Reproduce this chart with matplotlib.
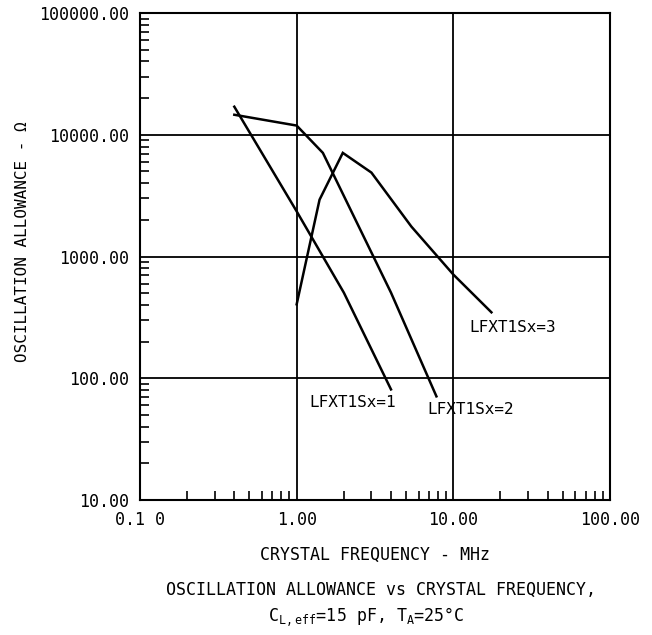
import matplotlib
matplotlib.use("Agg")
import matplotlib.pyplot as plt
from matplotlib.ticker import LogLocator, FixedLocator, NullFormatter

# Data (MHz, ohms)
freq_sx1 = [0.4, 1.0, 2.0, 4.0]
allow_sx1 = [17000, 2350, 505, 81]

freq_sx2 = [0.4, 1.0, 1.47, 4.0, 7.8]
allow_sx2 = [14600, 11900, 7100, 505, 71]

freq_sx3 = [1.0, 1.4, 1.97, 3.0, 5.4, 10.0, 17.5]
allow_sx3 = [405, 2930, 7100, 4890, 1760, 711, 348]

series_labels = ["LFXT1Sx=1", "LFXT1Sx=2", "LFXT1Sx=3"]
label_pos = [(1.2, 63), (6.8, 55), (12.6, 262)]

x_ticks = [0.1, 1, 10, 100]
x_ticklabels = ["0.1 0", "1.00", "10.00", "100.00"]
y_ticks = [10, 100, 1000, 10000, 100000]
y_ticklabels = ["10.00", "100.00", "1000.00", "10000.00", "100000.00"]

FONT = "DejaVu Sans Mono"
plt.rcParams["font.family"] = [FONT, "DejaVu Sans"]
plt.rcParams["mathtext.fontset"] = "dejavusans"

fig = plt.figure(figsize=(6.52, 6.35), dpi=100)
ax = fig.add_axes([0.2147, 0.2126, 0.7209, 0.7669])

ax.set_xscale("log")
ax.set_yscale("log")
ax.set_xlim(0.1, 100)
ax.set_ylim(10, 100000)

for fx, fy in [(freq_sx1, allow_sx1), (freq_sx2, allow_sx2), (freq_sx3, allow_sx3)]:
    ax.plot(fx, fy, color="black", linewidth=1.8, solid_joinstyle="miter")

for lab, (lx, ly) in zip(series_labels, label_pos):
    ax.text(lx, ly, lab, fontsize=11.5, va="center", ha="left", family=FONT)

# major grid at decades only
ax.xaxis.set_major_locator(FixedLocator(x_ticks))
ax.yaxis.set_major_locator(FixedLocator(y_ticks))
ax.set_xticklabels(x_ticklabels)
ax.set_yticklabels(y_ticklabels)
ax.grid(True, which="major", color="black", linewidth=1.3)
ax.tick_params(which="major", length=0, labelsize=12, pad=8)

ax.xaxis.set_minor_locator(LogLocator(base=10, subs=range(2, 10), numticks=20))
ax.yaxis.set_minor_locator(LogLocator(base=10, subs=range(2, 10), numticks=20))
ax.xaxis.set_minor_formatter(NullFormatter())
ax.yaxis.set_minor_formatter(NullFormatter())
ax.tick_params(which="minor", direction="in", length=6.5, width=1.2, color="black",
               top=False, right=False)

for sp in ax.spines.values():
    sp.set_linewidth(1.5)
    sp.set_color("black")

ax.set_xlabel("CRYSTAL FREQUENCY - MHz", fontsize=12, labelpad=12)
ax.set_ylabel("OSCILLATION ALLOWANCE - \u03a9", fontsize=11.5)
ax.yaxis.set_label_coords(-0.235, 0.53)

fig.text(0.584, 0.071, "OSCILLATION ALLOWANCE vs CRYSTAL FREQUENCY,",
         ha="center", va="center", fontsize=12)
fig.text(0.562, 0.028,
         r"C$_{\mathregular{L,eff}}$=15 pF, T$_{\mathregular{A}}$=25°C",
         ha="center", va="center", fontsize=12)

fig.savefig("out.png", dpi=100)
